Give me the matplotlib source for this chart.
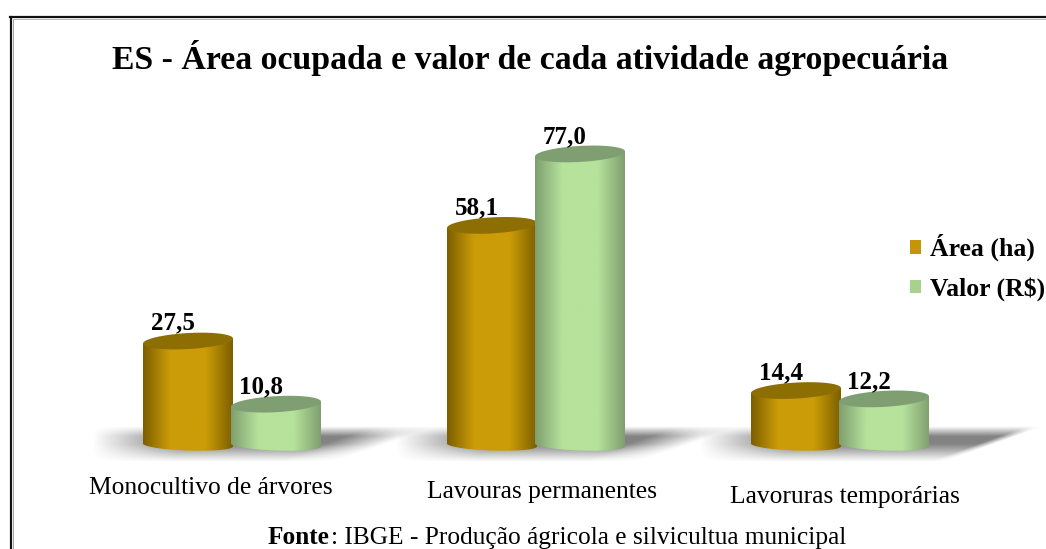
import numpy as np
import matplotlib
matplotlib.use("Agg")
import matplotlib.pyplot as plt
from matplotlib.colors import LinearSegmentedColormap
from matplotlib.lines import Line2D
from matplotlib.patches import PathPatch, Patch, Polygon
from matplotlib.path import Path

categories = ["Monocultivo de árvores", "Lavouras permanentes", "Lavoruras temporárias"]
area_ha = [27.5, 58.1, 14.4]
valor_rs = [10.8, 77.0, 12.2]
area_labels = ["27,5", "58,1", "14,4"]
valor_labels = ["10,8", "77,0", "12,2"]
series_names = ["Área (ha)", "Valor (R$)"]
title = "ES - Área ocupada e valor de cada atividade agropecuária"
source_bold = "Fonte"
source_rest = ": IBGE - Produção ágricola e silvicultua municipal"

W, H = 1046, 549
plt.rcParams["font.family"] = ["Liberation Serif", "DejaVu Serif"]
fig = plt.figure(figsize=(W / 100, H / 100), dpi=100, facecolor="white")
ax = fig.add_axes([0, 0, 1, 1])

PX_X0, PX_PER_CAT = 232.0, 304.0
PX_Y0, PX_PER_UNIT = 445.0, 3.78
ax.set_xlim(-PX_X0 / PX_PER_CAT, (W - PX_X0) / PX_PER_CAT)
ax.set_ylim((PX_Y0 - H) / PX_PER_UNIT, PX_Y0 / PX_PER_UNIT)
ax.axis("off")

BAR_W = 90 / PX_PER_CAT
BOT_RY = 5.5 / PX_PER_UNIT
TOP_RY = 8 / PX_PER_UNIT
BOT_TILT = 1.5 / PX_PER_UNIT
TOP_TILT = 2.5 / PX_PER_UNIT
OFFSET = 44 / PX_PER_CAT
FLOOR_TOP, FLOOR_BOTTOM = 5.0, -4.4
SHADOW_SOFTNESS = [0.2, 0.2, 0.05]


def shadow(cx, soft):
    x0, x1 = cx - 0.46, cx + 0.70
    xs = np.linspace(x0, x1, 350)
    ys = np.linspace(FLOOR_TOP, FLOOR_BOTTOM, 70)
    X, Y = np.meshgrid(xs, ys)
    t = (FLOOR_TOP - Y) / (FLOOR_TOP - FLOOR_BOTTOM)
    right = cx + 0.67 - 0.33 * t
    fade_r = np.clip((right - X) / soft, 0, 1)
    fade_l = np.clip((X - x0) / 0.28, 0, 1)
    vert = np.clip(t / 0.28, 0, 1) * np.clip((1 - t) / 0.5, 0, 1)
    alpha = 0.62 * vert * fade_r * fade_l
    rgba = np.zeros(X.shape + (4,))
    rgba[..., :3] = 0.22
    rgba[..., 3] = alpha
    ax.imshow(rgba, extent=(x0, x1, FLOOR_BOTTOM, FLOOR_TOP), aspect="auto",
              origin="upper", interpolation="bilinear", zorder=1)


def cylinder(cx, value, edge, centre, top, z):
    left, right = cx - BAR_W / 2, cx + BAR_W / 2
    th = np.linspace(np.pi, 2 * np.pi, 60)
    xs = cx + BAR_W / 2 * np.cos(th)
    ys = BOT_RY * np.sin(th) + BOT_TILT * np.cos(th) * -1
    verts = np.vstack([np.c_[xs, ys], [right, value + TOP_TILT], [left, value - TOP_TILT], [xs[0], ys[0]]])
    codes = [Path.MOVETO] + [Path.LINETO] * (len(verts) - 2) + [Path.CLOSEPOLY]
    clip = PathPatch(Path(verts, codes), transform=ax.transData, fc="none", ec="none")
    ax.add_patch(clip)
    cmap = LinearSegmentedColormap.from_list(
        "c", [(0, edge), (0.3, centre), (0.5, centre), (0.7, centre), (1, edge)])
    grad = np.linspace(0, 1, 128)[None, :]
    im = ax.imshow(grad, cmap=cmap, extent=(left, right, -(BOT_RY + BOT_TILT), value + TOP_TILT),
                   aspect="auto", interpolation="bilinear", zorder=z)
    im.set_clip_path(clip)
    tt = np.linspace(0, 2 * np.pi, 90)
    ring = np.c_[cx + BAR_W / 2 * np.cos(tt), value + TOP_RY * np.sin(tt) + TOP_TILT * np.cos(tt)]
    ax.add_patch(Polygon(ring, closed=True, fc=top, ec="none", zorder=z + 0.1))


positions = np.arange(len(categories))
for p, s in zip(positions, SHADOW_SOFTNESS):
    shadow(p, s)

GOLD = ("#7d5f00", "#cc9c08", "#8d6e02")
GREEN = ("#7f9f70", "#b6e29c", "#7f9f72")
for p, a, v in zip(positions, area_ha, valor_rs):
    cylinder(p - OFFSET, a, *GOLD, 3 + p)
    cylinder(p + OFFSET, v, *GREEN, 3.5 + p)

ax.set_xlim(-PX_X0 / PX_PER_CAT, (W - PX_X0) / PX_PER_CAT)
ax.set_ylim((PX_Y0 - H) / PX_PER_UNIT, PX_Y0 / PX_PER_UNIT)

LABEL_FS = 18
for p, a, v, la, lv in zip(positions, area_ha, valor_rs, area_labels, valor_labels):
    ax.annotate(la, (p - OFFSET, a), xytext=(-10.8, 8.2), textcoords="offset points",
                ha="center", va="baseline", fontsize=LABEL_FS, fontweight="bold", color="black", zorder=10)
    ax.annotate(lv, (p + OFFSET, v), xytext=(-10.8, 7.8), textcoords="offset points",
                ha="center", va="baseline", fontsize=LABEL_FS, fontweight="bold", color="black", zorder=10)


def ptext(x, y, s, **kw):
    return fig.text(x / W, 1 - y / H, s, **kw)


ptext(530, 69, title, ha="center", va="baseline", fontsize=24.3, fontweight="bold", color="black")

cat_x = [211, 542, 845]
cat_y = [494, 498, 503]
for x, y, c in zip(cat_x, cat_y, categories):
    ptext(x, y, c, ha="center", va="baseline", fontsize=18.4, color="black")

ptext(268, 544, source_bold, ha="left", va="baseline", fontsize=18.2, fontweight="bold", color="black")
ptext(331, 544, source_rest, ha="left", va="baseline", fontsize=18.3, color="black")

handles = [Patch(fc="#c49607", ec="none"), Patch(fc="#a9d18e", ec="none")]
leg = ax.legend(handles, series_names, loc="upper left", bbox_to_anchor=(910 / W, 1 - 234 / H),
                bbox_transform=fig.transFigure, frameon=False, handlelength=0.43, handleheight=0.43,
                handletextpad=0.35, labelspacing=0.62, borderpad=0, borderaxespad=0,
                prop={"size": 18.5, "weight": "bold"})
leg.set_zorder(20)

for coords, color, lw in [(((11, 11), (16.5, H)), "#111111", 2.2), (((10, W), (16.5, 16.5)), "#111111", 2.2),
                          (((13, 13), (19, H)), "#aaaaaa", 1.0), (((13, W), (18.5, 18.5)), "#bbbbbb", 1.0)]:
    fig.add_artist(Line2D([c / W for c in coords[0]], [1 - c / H for c in coords[1]],
                          color=color, lw=lw * 0.72, transform=fig.transFigure))

fig.savefig("out.png", dpi=100, facecolor="white")
